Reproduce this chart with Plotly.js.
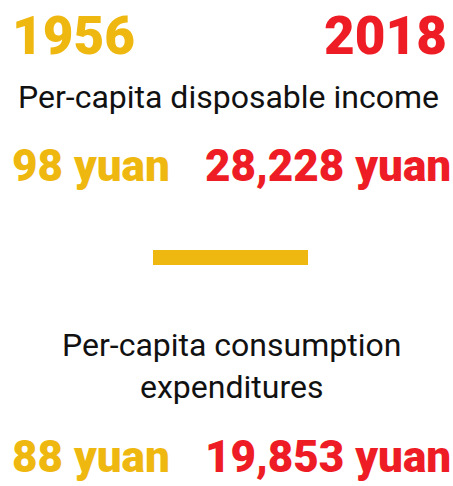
<!DOCTYPE html>
<html><head><meta charset="utf-8">
<script src="https://cdn.plot.ly/plotly-3.0.1.min.js"></script>
<style>html,body{margin:0;padding:0;background:#fff;}#chart{width:453px;height:486px;}</style>
</head><body><div id="chart"></div>
<script>
const years = ["1956", "2018"];
const metrics = ["Per-capita disposable income", "Per-capita consumption<br>expenditures"];
const income = [98, 28228];
const consumption = [88, 19853];

const GOLD = "#EFB810", RED = "#EE1C25";
const FONT = "Roboto";
const fmt = v => v.toLocaleString("en-US") + " yuan";

const ann = [];
// years
ann.push({x: 10, y: 36, text: years[0], xanchor: "left", font: {size: 53, color: GOLD, weight: 900}});
ann.push({x: 449, y: 36, text: years[1], xanchor: "right", font: {size: 53, color: RED, weight: 900}});
// metric titles
ann.push({x: 228, y: 97, text: metrics[0], xanchor: "center", font: {size: 32, color: "#111"}});
ann.push({x: 231, y: 366, text: metrics[1], xanchor: "center", font: {size: 32, color: "#111"}});
// values
ann.push({x: 10, y: 166, text: fmt(income[0]), xanchor: "left", font: {size: 44, color: GOLD, weight: 900}});
ann.push({x: 453, y: 166, text: fmt(income[1]), xanchor: "right", font: {size: 44, color: RED, weight: 900}});
ann.push({x: 10, y: 457, text: fmt(consumption[0]), xanchor: "left", font: {size: 44, color: GOLD, weight: 900}});
ann.push({x: 453, y: 457, text: fmt(consumption[1]), xanchor: "right", font: {size: 44, color: RED, weight: 900}});
ann.forEach(a => { a.xref = "x"; a.yref = "y"; a.showarrow = false; a.yanchor = "middle"; a.font.family = FONT; });

const layout = {
  width: 453, height: 486,
  margin: {l: 0, r: 0, t: 0, b: 0},
  paper_bgcolor: "#fff", plot_bgcolor: "#fff",
  xaxis: {range: [0, 453], visible: false, fixedrange: true},
  yaxis: {range: [486, 0], visible: false, fixedrange: true},
  showlegend: false,
  annotations: ann,
  shapes: [{type: "rect", xref: "x", yref: "y", x0: 153, x1: 308, y0: 250, y1: 265, fillcolor: GOLD, line: {width: 0}}]
};
Plotly.newPlot("chart", [], layout, {displayModeBar: false, staticPlot: true});
</script></body></html>
